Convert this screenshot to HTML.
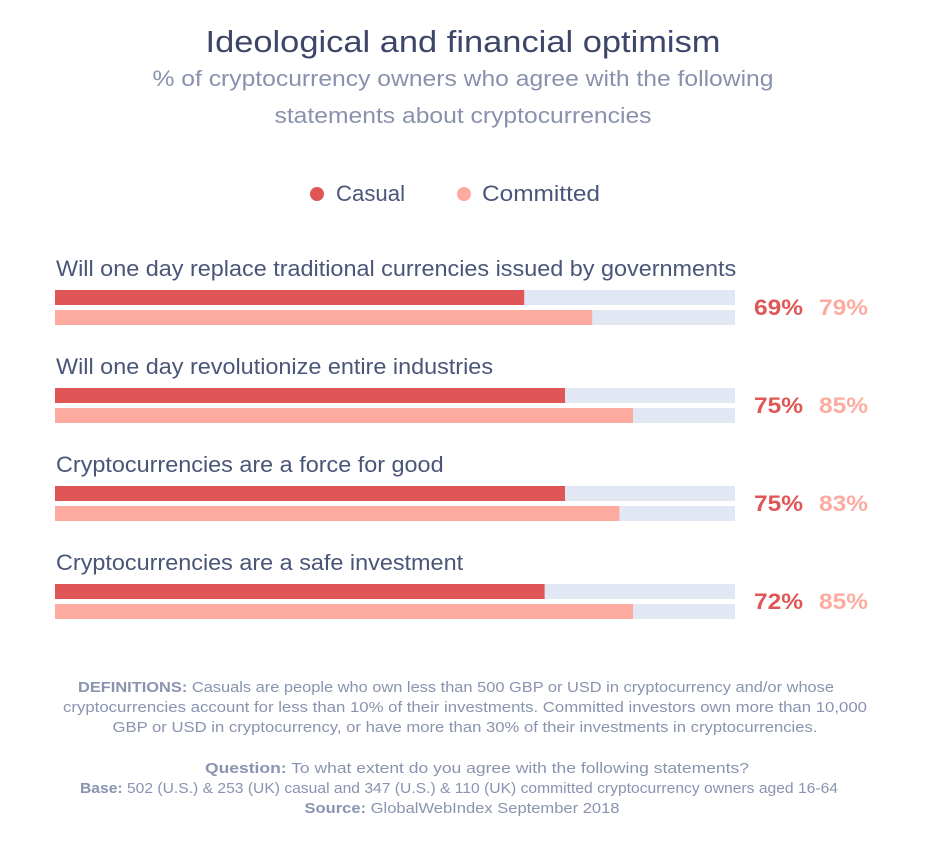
<!DOCTYPE html>
<html><head><meta charset="utf-8"><style>
body{margin:0;background:#fff;}
svg{display:block;font-family:"Liberation Sans",sans-serif;}
</style></head><body>
<svg id="chart" width="930" height="849" viewBox="0 0 930 849">
<text x="463" y="52" text-anchor="middle" font-size="31" fill="#3d4668" textLength="515" lengthAdjust="spacingAndGlyphs">Ideological and financial optimism</text>
<text x="463" y="86" text-anchor="middle" font-size="22" fill="#8a91ad" textLength="621" lengthAdjust="spacingAndGlyphs">% of cryptocurrency owners who agree with the following</text>
<text x="463" y="123" text-anchor="middle" font-size="22" fill="#8a91ad" textLength="377" lengthAdjust="spacingAndGlyphs">statements about cryptocurrencies</text>
<g>
<circle cx="317" cy="194" r="7" fill="#e05555"/>
<text x="336" y="201" font-size="22" fill="#4a5578" textLength="69" lengthAdjust="spacingAndGlyphs">Casual</text>
<circle cx="464" cy="194" r="7" fill="#fdaba0"/>
<text x="482" y="201" font-size="22" fill="#4a5578" textLength="118" lengthAdjust="spacingAndGlyphs">Committed</text>
</g>
<g id="rows"></g>
<g font-size="14.5" fill="#8a93b0" text-anchor="middle">
<text x="456" y="692" textLength="756" lengthAdjust="spacingAndGlyphs"><tspan font-weight="bold">DEFINITIONS:</tspan> Casuals are people who own less than 500 GBP or USD in cryptocurrency and/or whose</text>
<text x="465" y="712" textLength="804" lengthAdjust="spacingAndGlyphs">cryptocurrencies account for less than 10% of their investments. Committed investors own more than 10,000</text>
<text x="465" y="732" textLength="705" lengthAdjust="spacingAndGlyphs">GBP or USD in cryptocurrency, or have more than 30% of their investments in cryptocurrencies.</text>
<text x="477" y="773" textLength="544" lengthAdjust="spacingAndGlyphs"><tspan font-weight="bold">Question:</tspan> To what extent do you agree with the following statements?</text>
<text x="459" y="793" textLength="758" lengthAdjust="spacingAndGlyphs"><tspan font-weight="bold">Base:</tspan> 502 (U.S.) &amp; 253 (UK) casual and 347 (U.S.) &amp; 110 (UK) committed cryptocurrency owners aged 16-64</text>
<text x="462" y="813" textLength="315" lengthAdjust="spacingAndGlyphs"><tspan font-weight="bold">Source:</tspan> GlobalWebIndex September 2018</text>
</g>
</svg>
<script>
const categories=["Will one day replace traditional currencies issued by governments","Will one day revolutionize entire industries","Cryptocurrencies are a force for good","Cryptocurrencies are a safe investment"];
const casual=[69,75,75,72];
const committed=[79,85,83,85];
const NS="http://www.w3.org/2000/svg";
const g=document.getElementById('rows');
const x0=55,W=680;
function xs(v){return W*v/100;}
function mk(tag,attrs){const e=document.createElementNS(NS,tag);for(const k in attrs)e.setAttribute(k,attrs[k]);g.appendChild(e);return e;}
categories.forEach((c,i)=>{
 const y=290+i*98;
 const t=mk('text',{x:56,y:y-14,'font-size':22.5,fill:'#4a5578'});t.textContent=c;
 
 
 const len=t.getComputedTextLength();
 t.setAttribute('textLength',len*1.04);
 t.setAttribute('lengthAdjust','spacingAndGlyphs');
 [[casual[i],'#e05555',0],[committed[i],'#fdaba0',20]].forEach(([v,col,dy],j)=>{
  const tr=mk('rect',{x:x0,y:y+dy,width:W,height:15,fill:'#e1e8f4'});
  
  
  const b=mk('rect',{x:x0,y:y+dy,width:xs(v),height:15,fill:col});
  
  
  const l=mk('text',{x:j?819:754,y:y+25,'font-size':22,'font-weight':'bold',fill:col,textLength:49,lengthAdjust:'spacingAndGlyphs'});
  l.textContent=v+'%';
  
  
 });
});
</script>
</body></html>
